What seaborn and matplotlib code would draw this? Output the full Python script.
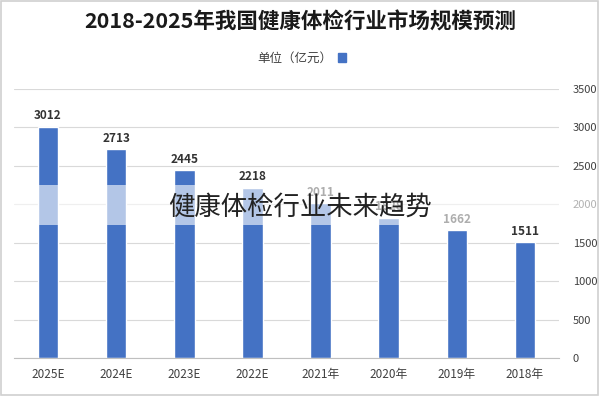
import matplotlib
matplotlib.use("Agg")
import matplotlib.pyplot as plt
import matplotlib.patches as mpatches
import seaborn as sns
import pandas as pd

years = ["2018年", "2019年", "2020年", "2021年", "2022E", "2023E", "2024E", "2025E"]
values = [1511, 1662, 1828, 2011, 2218, 2445, 2713, 3012]
yticks = [0, 500, 1000, 1500, 2000, 2500, 3000, 3500]
title = "2018-2025年我国健康体检行业市场规模预测"
legend_label = "单位（亿元）"
overlay = "健康体检行业未来趋势"

sns.set_theme(style="white")
plt.rcParams['font.family'] = ['Noto Sans CJK SC', 'DejaVu Sans']

df = pd.DataFrame({"year": years, "value": values})
order = years[::-1]

fig = plt.figure(figsize=(6.0, 3.96), dpi=100)
ax = fig.add_axes([14/600, 1-358/396, 545/600, 269/396])

bar_color = "#4472C4"
sns.barplot(data=df, x="year", y="value", order=order, color=bar_color,
            width=0.3, ax=ax, saturation=1)

ax.set_ylim(0, 3500)
ax.set_xlim(-0.5, 7.5)
ax.set_yticks(yticks)
ax.yaxis.tick_right()
ax.tick_params(axis='y', length=0, pad=10, labelsize=8, labelcolor="#404040")
ax.tick_params(axis='x', length=0, pad=7, labelsize=8.5, labelcolor="#404040")
ax.set_xlabel("")
ax.set_ylabel("")
for s in ["top", "left", "right"]:
    ax.spines[s].set_visible(False)
ax.spines["bottom"].set_color("#BFBFBF")
ax.spines["bottom"].set_linewidth(0.8)
ax.grid(axis='y', color="#D9D9D9", linewidth=0.8)
ax.set_axisbelow(True)

for c in ax.containers:
    ax.bar_label(c, labels=[f"{int(v)}" for v in c.datavalues], padding=3,
                 fontsize=8.5, fontweight="bold", color="#333333")

fig.text(0.5, 1-22/396, title, ha="center", va="center", fontsize=15.5,
         fontweight="bold", color="#1a1a1a")

handle = mpatches.Patch(color=bar_color)
fig.legend([handle], [legend_label], loc="center", bbox_to_anchor=(302/600, 1-58/396),
           frameon=False, markerfirst=False, fontsize=9, handlelength=0.7,
           handleheight=0.7, handletextpad=0.4, labelcolor="#404040")

# semi-transparent white band with overlay text
fig.patches.append(mpatches.Rectangle((0, 1-225/396), 1, 40/396, transform=fig.transFigure,
                                      facecolor="white", alpha=0.6, edgecolor="none", zorder=5))
fig.text(300/600, 1-207/396, overlay, ha="center", va="center", fontsize=19,
         color="#222222", zorder=6)

# figure border
fig.patches.append(mpatches.Rectangle((0.002, 0.003), 0.995, 0.994, transform=fig.transFigure,
                                      facecolor="none", edgecolor="#D0D0D0", linewidth=1.2, zorder=7))

fig.savefig("out.png", dpi=100)
